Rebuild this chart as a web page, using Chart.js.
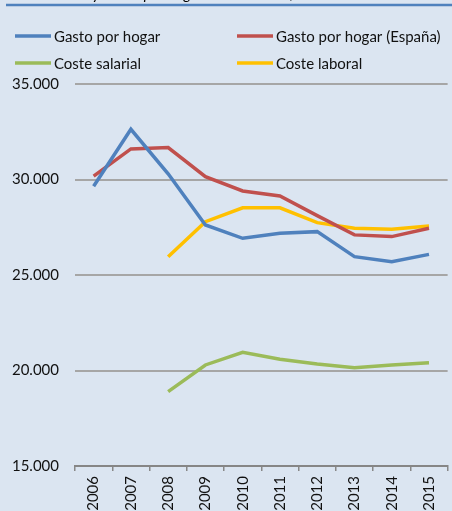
<!DOCTYPE html>
<html><head><meta charset="utf-8">
<style>html,body{margin:0;padding:0;background:#DBE5F1;}#wrap{position:relative;width:452px;height:511px;overflow:hidden;}</style>
<script src="https://cdn.jsdelivr.net/npm/chart.js@4/dist/chart.umd.min.js"></script>
</head><body><div id="wrap"><canvas id="c" width="452" height="511"></canvas></div>
<script>
const titleText = "Coste laboral y Gasto por hogar. Extremadura, 2006-2015";
const years = ["2006","2007","2008","2009","2010","2011","2012","2013","2014","2015"];
const gastoHogar = [29650, 32630, 30300, 27620, 26920, 27180, 27270, 25960, 25700, 26080];
const gastoHogarEspana = [30180, 31600, 31670, 30150, 29400, 29140, 28110, 27100, 27010, 27450];
const costeSalarial = [null, null, 18890, 20290, 20950, 20590, 20340, 20150, 20290, 20410];
const costeLaboral = [null, null, 25960, 27790, 28520, 28520, 27740, 27450, 27390, 27570];
const seriesNames = ["Gasto por hogar", "Gasto por hogar (España)", "Coste salarial", "Coste laboral"];
const seriesColors = ["#4F81BD", "#C0504D", "#9BBB59", "#FFC000"];
const yTicks = [15000, 20000, 25000, 30000, 35000];

const FONT = "Lato, 'Open Sans', sans-serif";

const bgPlugin = {
  id: 'bg',
  beforeDraw(chart) {
    const ctx = chart.ctx;
    ctx.save();
    ctx.fillStyle = '#DBE5F1';
    ctx.fillRect(0, 0, chart.width, chart.height);
    // clipped title text and rule
    ctx.font = "italic 15px " + FONT;
    ctx.fillStyle = '#000';
    ctx.textBaseline = 'alphabetic';
    ctx.fillText(titleText, 8, -1);
    ctx.strokeStyle = '#4F81BD';
    ctx.lineWidth = 2.5;
    ctx.beginPath(); ctx.moveTo(6, 5); ctx.lineTo(452, 5); ctx.stroke();
    ctx.restore();
  }
};

const legendPlugin = {
  id: 'customLegend',
  afterDraw(chart) {
    const ctx = chart.ctx;
    const pos = [[15, 36], [237, 36], [15, 63], [237, 63]];
    ctx.save();
    ctx.font = "15px " + FONT;
    ctx.textBaseline = 'middle';
    chart.data.datasets.forEach((ds, i) => {
      const [x, y] = pos[i];
      ctx.strokeStyle = ds.borderColor;
      ctx.lineWidth = 3.5;
      ctx.beginPath(); ctx.moveTo(x, y); ctx.lineTo(x + 36, y); ctx.stroke();
      ctx.fillStyle = '#111';
      ctx.fillText(ds.label, x + 39, y + 1);
    });
    ctx.restore();
  }
};

const datasets = [gastoHogar, gastoHogarEspana, costeSalarial, costeLaboral].map((d, i) => ({
  label: seriesNames[i],
  data: d,
  borderColor: seriesColors[i],
  backgroundColor: seriesColors[i],
  borderWidth: 3.5,
  pointRadius: 0,
  tension: 0,
  spanGaps: false,
  fill: false
}));

new Chart(document.getElementById('c'), {
  type: 'line',
  data: { labels: years, datasets },
  options: {
    responsive: false,
    animation: false,
    devicePixelRatio: 1,
    layout: { padding: { top: 84, right: 0, left: 0, bottom: 0 } },
    plugins: { legend: { display: false }, title: { display: false }, tooltip: { enabled: false } },
    scales: {
      x: {
        offset: true,
        grid: { offset: true, drawOnChartArea: false, drawTicks: true, tickLength: 5, color: '#888', lineWidth: 1.5 },
        border: { display: true, color: '#868686', width: 2 },
        ticks: { minRotation: 90, maxRotation: 90, padding: 5, color: '#111', font: { family: FONT, size: 15 } },
        afterFit(s) { s.height = 45; }
      },
      y: {
        min: 15000, max: 35000,
        afterBuildTicks(s) { s.ticks = yTicks.map(v => ({ value: v })); },
        grid: { color: '#A6A6A6', lineWidth: 2, drawTicks: false },
        border: { display: false },
        ticks: { padding: 16, color: '#111', font: { family: FONT, size: 15 },
          callback: v => (v / 1000).toFixed(3) },
        afterFit(s) { s.width = 75; }
      }
    }
  },
  plugins: [bgPlugin, legendPlugin]
});
</script>
</body></html>
